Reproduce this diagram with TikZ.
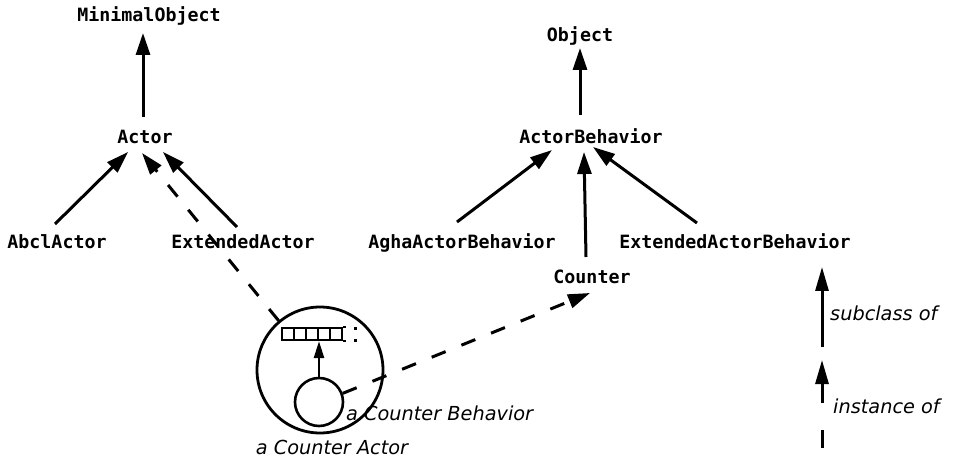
\documentclass[tikz,border=0pt]{standalone}
\usepackage{fontspec}
\newfontfamily\monofont{DejaVu Sans Mono}
\newfontfamily\obfont{DejaVu Sans}
\usetikzlibrary{arrows.meta}
\begin{document}
\begin{tikzpicture}[x=1pt,y=1pt,
  cls/.style={font=\monofont\bfseries\fontsize{18.3}{20}\selectfont, inner sep=0pt, text height=13pt, text depth=0pt, anchor=center},
  lab/.style={font=\obfont\itshape\fontsize{19.3}{21}\selectfont, inner sep=0pt, text height=14pt, text depth=0pt},
  arr/.style={line width=3pt, -{Triangle[length=22pt,width=14pt]}},
  larr/.style={line width=3pt, -{Triangle[length=24pt,width=13pt]}},
  sarr/.style={line width=2.5pt, -{Triangle[length=17pt,width=10pt]}},
  darr/.style={arr, dash pattern=on 15pt off 17pt},
  ring/.style={circle, draw, inner sep=0pt},
]
\useasboundingbox (0,0) rectangle (953,461);

% class nodes
\node[cls] (mo) at (149,446) {MinimalObject};
\node[cls] (actor) at (145,324) {Actor};
\node[cls] (abcl) at (57,219) {AbclActor};
\node[cls] (extA) at (243,219) {ExtendedActor};
\node[cls] (obj) at (580,426) {Object};
\node[cls] (ab) at (591,324) {ActorBehavior};
\node[cls] (agha) at (462,219) {AghaActorBehavior};
\node[cls] (eab) at (735,219) {ExtendedActorBehavior};
\node[cls] (counter) at (592,184) {Counter};

% actor instance
\node[ring, line width=2.8pt, minimum size=126pt] (cactor) at (320,91) {};
\node[ring, line width=2.6pt, minimum size=48pt] (cbeh) at (319,59) {};
\node[draw, line width=2.2pt, minimum width=60pt, minimum height=12pt, inner sep=0pt] (queue) at (312,127) {};
\foreach \x in {294,306,318,330} \draw[line width=2.2pt] (\x,121) -- (\x,133);
\draw[line width=2.2pt] (queue.north east) -- ++(3,0) (queue.south east) -- ++(3,0);
\fill (353.5,131) rectangle ++(3,3);
\fill (353.5,119.5) rectangle ++(3,3);

\node[lab, anchor=west] (lcb) at (346,48) {a Counter Behavior};
\node[lab] (lca) at (332,14) {a Counter Actor};

% subclass arrows
\draw[arr] ([shift={(-2,20)}]actor.center) -- ([shift={(-6,-18)}]mo.center);
\draw[arr] ([shift={(-2,18)}]abcl.center) -- ([shift={(-17,-15)}]actor.center);
\draw[arr] ([shift={(-6,15)}]extA.center) -- ([shift={(18,-15)}]actor.center);
\draw[arr] ([shift={(-11,22)}]ab.center) -- ([shift={(0,-13)}]obj.center);
\draw[arr] ([shift={(-5,20)}]agha.center) -- ([shift={(-39,-13)}]ab.center);
\draw[arr] ([shift={(-6,20)}]counter.center) -- ([shift={(-7,-15)}]ab.center);
\draw[arr] ([shift={(-38,19)}]eab.center) -- ([shift={(2,-10)}]ab.center);

% instance arrows
\draw[darr] (cactor.130) -- ([shift={(-3,-16)}]actor.center);
\draw[darr] (cbeh.20) -- ([shift={(-2,-16)}]counter.center);
\draw[sarr] (cbeh.north) -- (cbeh.north |- queue.south);

% legend
\coordinate (l1s) at (822,114);
\coordinate (l1e) at (822,194);
\draw[larr] (l1s) -- (l1e);
\node[lab, anchor=west] (lsub) at (830,148) {subclass of};
\coordinate (l2s) at (822,58);
\coordinate (l2e) at (822,101);
\draw[larr] (l2s) -- (l2e);
\node[lab, anchor=west] (linst) at (833,55) {instance of};
\coordinate (l3s) at (822,13);
\coordinate (l3e) at (822,31);
\draw[line width=3pt] (l3s) -- (l3e);
\end{tikzpicture}
\end{document}
